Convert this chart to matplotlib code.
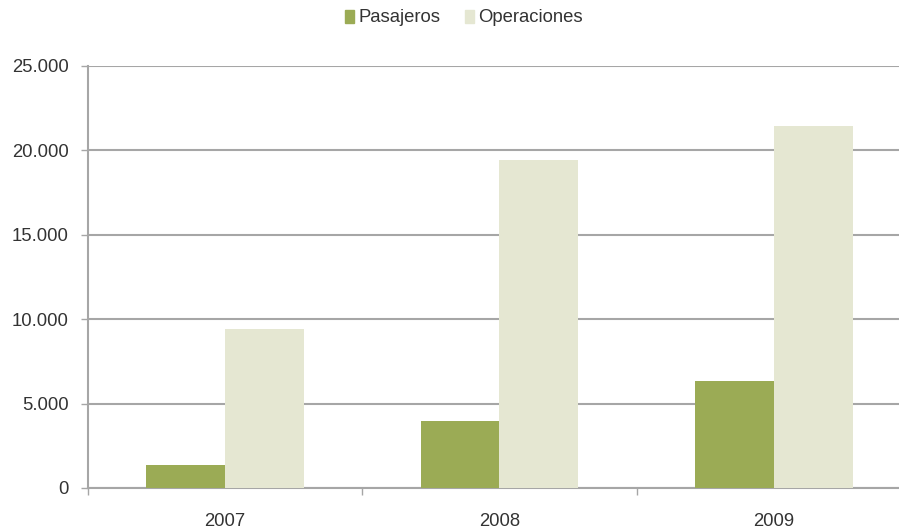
import numpy as np
import matplotlib
matplotlib.use("Agg")
import matplotlib.pyplot as plt
from matplotlib.ticker import FuncFormatter, FixedLocator
from matplotlib.patches import Patch

# Datos
years = ["2007", "2008", "2009"]
pasajeros = [1370, 3980, 6350]
operaciones = [9400, 19420, 21470]

green = "#9BAB55"
light = "#E5E7D2"
grid_gray = "#A6A6A6"
text_col = "#333333"

plt.rcParams['font.family'] = ['Liberation Sans', 'DejaVu Sans']

fig = plt.figure(figsize=(8.99, 5.29), dpi=100)
W, H = 899, 529
# axes spans past the right edge of the figure
left, right = 88, 911
top, bottom = 66, 488
ax = fig.add_axes([left / W, 1 - bottom / H, (right - left) / W, (bottom - top) / H])

x = np.arange(len(years))
bw = 0.287
ax.bar(x - bw / 2, pasajeros, bw, color=green, label="Pasajeros", zorder=3)
ax.bar(x + bw / 2, operaciones, bw, color=light, label="Operaciones", zorder=3)

ax.set_xlim(-0.5, len(years) - 0.5)
ax.set_ylim(0, 25000)
ax.set_yticks(np.arange(0, 25001, 5000))
ax.yaxis.set_major_formatter(FuncFormatter(lambda v, p: f"{int(v):,}".replace(",", ".")))
ax.grid(axis="y", color=grid_gray, linewidth=1.5, zorder=0)

ax.set_xticks(x)
ax.set_xticklabels(years)
ax.xaxis.set_minor_locator(FixedLocator(np.arange(-0.5, len(years), 1.0)))
ax.tick_params(axis="x", which="major", length=0, pad=18, labelsize=13.3, labelcolor=text_col)
ax.tick_params(axis="x", which="minor", length=5, width=1, color=grid_gray, direction="out")
ax.tick_params(axis="y", length=5, width=1, color=grid_gray, pad=9, labelsize=13.3,
               labelcolor=text_col)

for s in ["top", "right"]:
    ax.spines[s].set_visible(False)
for s in ["left", "bottom"]:
    ax.spines[s].set_color(grid_gray)
    ax.spines[s].set_linewidth(1.5)

handles = [Patch(color=green, label="Pasajeros"), Patch(color=light, label="Operaciones")]
fig.legend(handles=handles, loc="center", bbox_to_anchor=(464 / W, 1 - 18 / H),
           ncol=2, frameon=False, fontsize=13.3, handlelength=0.5, handleheight=0.7,
           handletextpad=0.25, columnspacing=1.3, labelcolor=text_col)

fig.savefig("out.png", dpi=100)
